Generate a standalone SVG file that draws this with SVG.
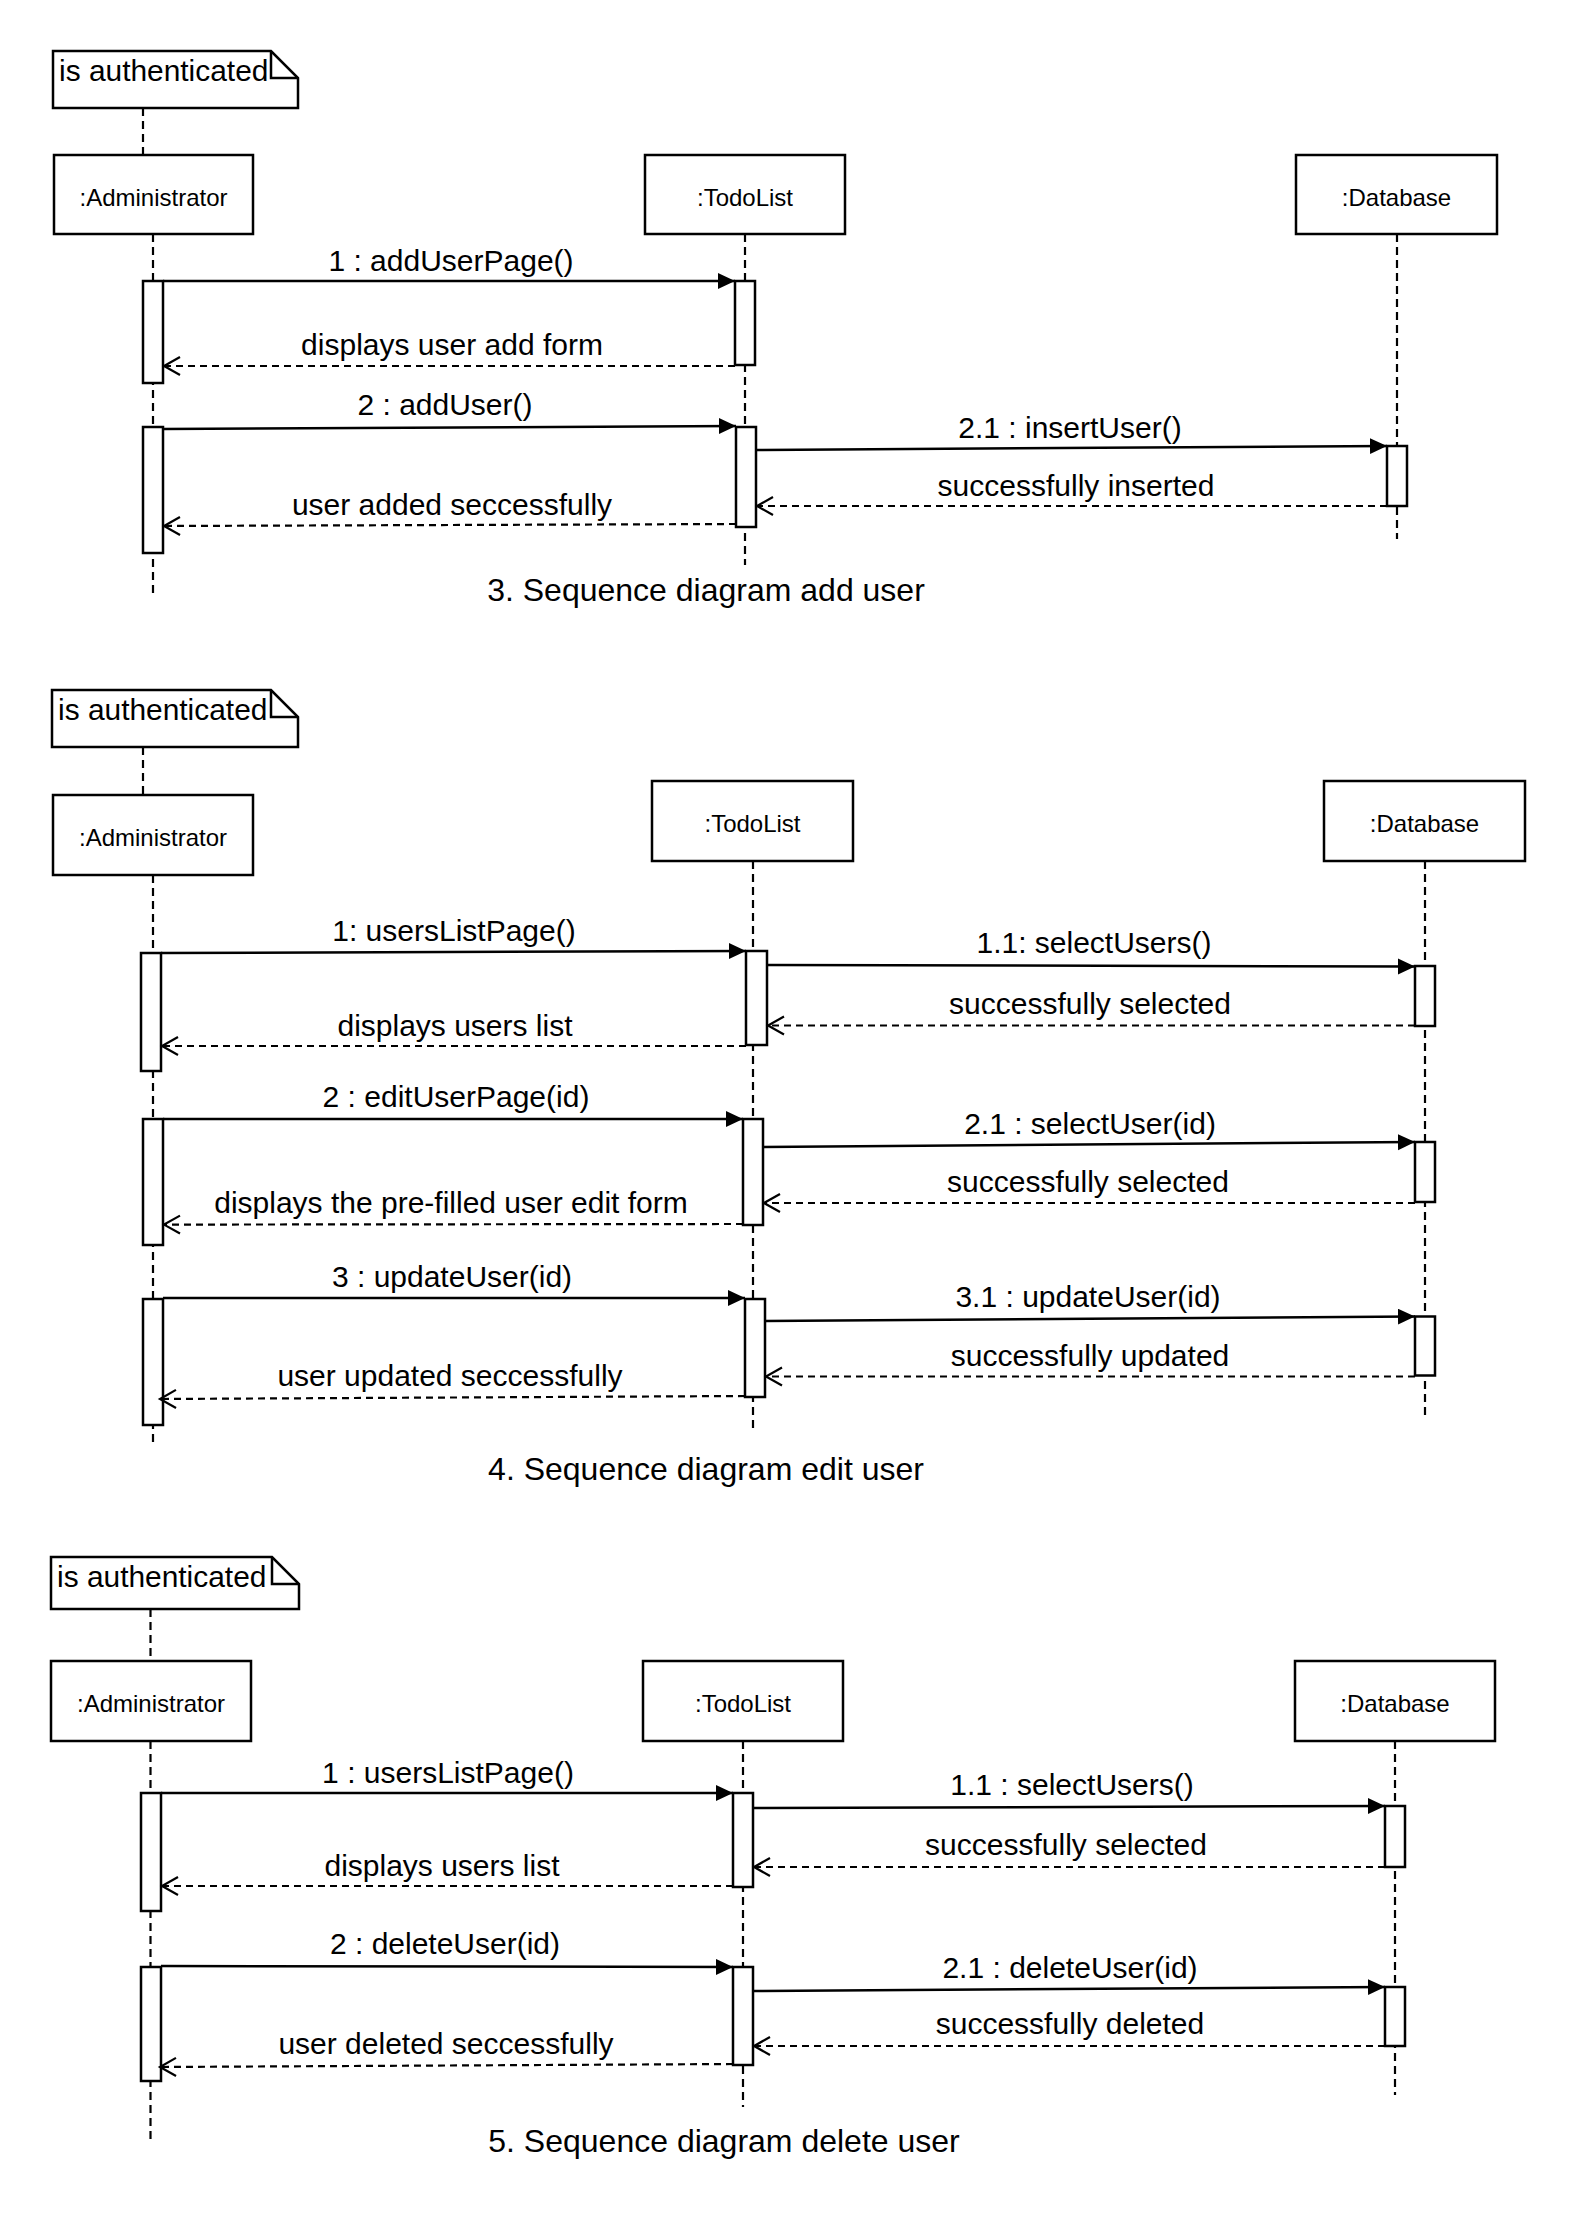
<svg xmlns="http://www.w3.org/2000/svg" width="1576" height="2214" viewBox="0 0 1576 2214">
  <style>
    .box { fill: #ffffff; stroke: #000000; stroke-width: 2.5; }
    .bar { fill: #ffffff; stroke: #000000; stroke-width: 2.5; }
    .life { fill: none; stroke: #000000; stroke-width: 2.2; stroke-dasharray: 8 5; }
    .msg { fill: none; stroke: #000000; stroke-width: 2.5; marker-end: url(#solidArrow); }
    .ret { fill: none; stroke: #000000; stroke-width: 2.2; stroke-dasharray: 7 5; marker-end: url(#openArrow); }
    .name { font-family: "Liberation Sans", Arial, sans-serif; font-size: 24px; fill: #000000; text-anchor: middle; }
    .note { font-family: "Liberation Sans", Arial, sans-serif; font-size: 29.9px; fill: #000000; }
    .lbl { font-family: "Liberation Sans", Arial, sans-serif; font-size: 30px; fill: #000000; text-anchor: middle; }
    .cap { font-family: "Liberation Sans", Arial, sans-serif; font-size: 32px; fill: #000000; text-anchor: middle; }
  </style>
  <defs>
    <marker id="solidArrow" markerUnits="userSpaceOnUse" markerWidth="18" markerHeight="18" refX="17" refY="8" orient="auto">
      <path d="M0,0 L17,8 L0,16 Z" fill="#000000"/>
    </marker>
    <marker id="openArrow" markerUnits="userSpaceOnUse" markerWidth="20" markerHeight="22" refX="17" refY="10" orient="auto">
      <path d="M1,1 L17,10 L1,19" fill="none" stroke="#000000" stroke-width="2.2"/>
    </marker>
  </defs>
  <rect x="0" y="0" width="1576" height="2214" fill="#ffffff"/>

  <!-- ===== 3. add user ===== -->
  <g id="note-add">
    <path class="box" d="M53,51 H271 L298,78 V108 H53 Z"/>
    <path d="M271,51 V78 H298" fill="none" stroke="#000" stroke-width="2.5"/>
    <text class="note" x="59" y="81">is authenticated</text>
  </g>
  <g id="admin-add">
    <rect class="box" x="54" y="155" width="199" height="79"/>
    <text class="name" x="153.5" y="206">:Administrator</text>
    <line class="life" x1="153" y1="234" x2="153" y2="596"/>
    <rect class="bar" x="143" y="281" width="20" height="102"/>
    <rect class="bar" x="143" y="427" width="20" height="126"/>
  </g>
  <g id="todo-add">
    <rect class="box" x="645" y="155" width="200" height="79"/>
    <text class="name" x="745" y="206">:TodoList</text>
    <line class="life" x1="745" y1="234" x2="745" y2="565"/>
    <rect class="bar" x="735" y="281" width="20" height="84"/>
    <rect class="bar" x="736" y="427" width="20" height="100"/>
  </g>
  <g id="db-add">
    <rect class="box" x="1296" y="155" width="201" height="79"/>
    <text class="name" x="1396.5" y="206">:Database</text>
    <line class="life" x1="1397" y1="234" x2="1397" y2="539"/>
    <rect class="bar" x="1387" y="446" width="20" height="60"/>
  </g>
  <text class="cap" x="706" y="601">3. Sequence diagram add user</text>

  <!-- ===== 4. edit user ===== -->
  <g id="note-edit">
    <path class="box" d="M52,690 H271 L298,717 V747 H52 Z"/>
    <path d="M271,690 V717 H298" fill="none" stroke="#000" stroke-width="2.5"/>
    <text class="note" x="58" y="720">is authenticated</text>
  </g>
  <g id="admin-edit">
    <rect class="box" x="53" y="795" width="200" height="80"/>
    <text class="name" x="153" y="846">:Administrator</text>
    <line class="life" x1="153" y1="875" x2="153" y2="1444"/>
    <rect class="bar" x="141" y="953" width="20" height="118"/>
    <rect class="bar" x="143" y="1119" width="20" height="126"/>
    <rect class="bar" x="143" y="1299" width="20" height="126"/>
  </g>
  <g id="todo-edit">
    <rect class="box" x="652" y="781" width="201" height="80"/>
    <text class="name" x="752.5" y="832">:TodoList</text>
    <line class="life" x1="753" y1="861" x2="753" y2="1429"/>
    <rect class="bar" x="746" y="951" width="21" height="94"/>
    <rect class="bar" x="743" y="1119" width="20" height="106"/>
    <rect class="bar" x="745" y="1299" width="20" height="98"/>
  </g>
  <g id="db-edit">
    <rect class="box" x="1324" y="781" width="201" height="80"/>
    <text class="name" x="1424.5" y="832">:Database</text>
    <line class="life" x1="1425" y1="861" x2="1425" y2="1417"/>
    <rect class="bar" x="1415" y="966" width="20" height="60"/>
    <rect class="bar" x="1415" y="1142" width="20" height="60"/>
    <rect class="bar" x="1415" y="1316.5" width="20" height="59"/>
  </g>
  <text class="cap" x="706" y="1480">4. Sequence diagram edit user</text>

  <!-- ===== 5. delete user ===== -->
  <g id="note-delete">
    <path class="box" d="M51,1557 H272 L299,1584 V1609 H51 Z"/>
    <path d="M272,1557 V1584 H299" fill="none" stroke="#000" stroke-width="2.5"/>
    <text class="note" x="57" y="1587">is authenticated</text>
  </g>
  <g id="admin-delete">
    <rect class="box" x="51" y="1661" width="200" height="80"/>
    <text class="name" x="151" y="1712">:Administrator</text>
    <line class="life" x1="150.5" y1="1741" x2="150.5" y2="2141"/>
    <rect class="bar" x="141" y="1793" width="20" height="118"/>
    <rect class="bar" x="141" y="1967" width="20" height="114"/>
  </g>
  <g id="todo-delete">
    <rect class="box" x="643" y="1661" width="200" height="80"/>
    <text class="name" x="743" y="1712">:TodoList</text>
    <line class="life" x1="743" y1="1741" x2="743" y2="2107"/>
    <rect class="bar" x="733" y="1793" width="20" height="94"/>
    <rect class="bar" x="733" y="1967" width="20" height="98"/>
  </g>
  <g id="db-delete">
    <rect class="box" x="1295" y="1661" width="200" height="80"/>
    <text class="name" x="1395" y="1712">:Database</text>
    <line class="life" x1="1395" y1="1741" x2="1395" y2="2095"/>
    <rect class="bar" x="1385" y="1806" width="20" height="61"/>
    <rect class="bar" x="1385" y="1987" width="20" height="59"/>
  </g>
  <text class="cap" x="724" y="2152">5. Sequence diagram delete user</text>

  <!-- ===== messages ===== -->
  <g id="connectors">
    <!-- add user -->
    <line class="life" x1="143" y1="108" x2="143" y2="155"/>
    <line class="msg" x1="163" y1="281" x2="735" y2="281"/>
    <text class="lbl" x="451" y="271">1 : addUserPage()</text>
    <line class="ret" x1="735" y1="366" x2="164" y2="366"/>
    <text class="lbl" x="452" y="355">displays user add form</text>
    <line class="msg" x1="163" y1="429" x2="736" y2="426"/>
    <text class="lbl" x="445" y="415">2 : addUser()</text>
    <line class="msg" x1="756" y1="450" x2="1387" y2="446"/>
    <text class="lbl" x="1070" y="438">2.1 : insertUser()</text>
    <line class="ret" x1="1387" y1="506" x2="757" y2="506"/>
    <text class="lbl" x="1076" y="496">successfully inserted</text>
    <line class="ret" x1="736" y1="524" x2="164" y2="526"/>
    <text class="lbl" x="452" y="515">user added seccessfully</text>

    <!-- edit user -->
    <line class="life" x1="143" y1="747" x2="143" y2="795"/>
    <line class="msg" x1="161" y1="953" x2="746" y2="951"/>
    <text class="lbl" x="454" y="941">1: usersListPage()</text>
    <line class="msg" x1="767" y1="965" x2="1415" y2="966.5"/>
    <text class="lbl" x="1094" y="953">1.1: selectUsers()</text>
    <line class="ret" x1="1415" y1="1025.5" x2="768" y2="1025.5"/>
    <text class="lbl" x="1090" y="1014">successfully selected</text>
    <line class="ret" x1="746" y1="1046" x2="162" y2="1046"/>
    <text class="lbl" x="455" y="1036">displays users list</text>
    <line class="msg" x1="163" y1="1119" x2="743" y2="1119"/>
    <text class="lbl" x="456" y="1107">2 : editUserPage(id)</text>
    <line class="msg" x1="763" y1="1147" x2="1415" y2="1142"/>
    <text class="lbl" x="1090" y="1134">2.1 : selectUser(id)</text>
    <line class="ret" x1="1415" y1="1203" x2="764" y2="1203"/>
    <text class="lbl" x="1088" y="1192">successfully selected</text>
    <line class="ret" x1="743" y1="1224" x2="164" y2="1224.6"/>
    <text class="lbl" x="451" y="1213">displays the pre-filled user edit form</text>
    <line class="msg" x1="163" y1="1298" x2="745" y2="1298"/>
    <text class="lbl" x="452" y="1287">3 : updateUser(id)</text>
    <line class="msg" x1="765" y1="1321" x2="1415" y2="1316.5"/>
    <text class="lbl" x="1088" y="1307">3.1 : updateUser(id)</text>
    <line class="ret" x1="1415" y1="1376.5" x2="766" y2="1376.5"/>
    <text class="lbl" x="1090" y="1366">successfully updated</text>
    <line class="ret" x1="745" y1="1396" x2="160" y2="1399"/>
    <text class="lbl" x="450" y="1386">user updated seccessfully</text>

    <!-- delete user -->
    <line class="life" x1="150.5" y1="1609" x2="150.5" y2="1661"/>
    <line class="msg" x1="161" y1="1793" x2="733" y2="1793"/>
    <text class="lbl" x="448" y="1783">1 : usersListPage()</text>
    <line class="msg" x1="753" y1="1808" x2="1385" y2="1806"/>
    <text class="lbl" x="1072" y="1795">1.1 : selectUsers()</text>
    <line class="ret" x1="1385" y1="1867" x2="754" y2="1867"/>
    <text class="lbl" x="1066" y="1855">successfully selected</text>
    <line class="ret" x1="733" y1="1886" x2="162" y2="1886"/>
    <text class="lbl" x="442" y="1876">displays users list</text>
    <line class="msg" x1="161" y1="1966" x2="733" y2="1967"/>
    <text class="lbl" x="445" y="1954">2 : deleteUser(id)</text>
    <line class="msg" x1="753" y1="1991" x2="1385" y2="1987"/>
    <text class="lbl" x="1070" y="1978">2.1 : deleteUser(id)</text>
    <line class="ret" x1="1385" y1="2046" x2="754" y2="2046"/>
    <text class="lbl" x="1070" y="2034">successfully deleted</text>
    <line class="ret" x1="733" y1="2064" x2="160" y2="2067"/>
    <text class="lbl" x="446" y="2054">user deleted seccessfully</text>
  </g>
</svg>
